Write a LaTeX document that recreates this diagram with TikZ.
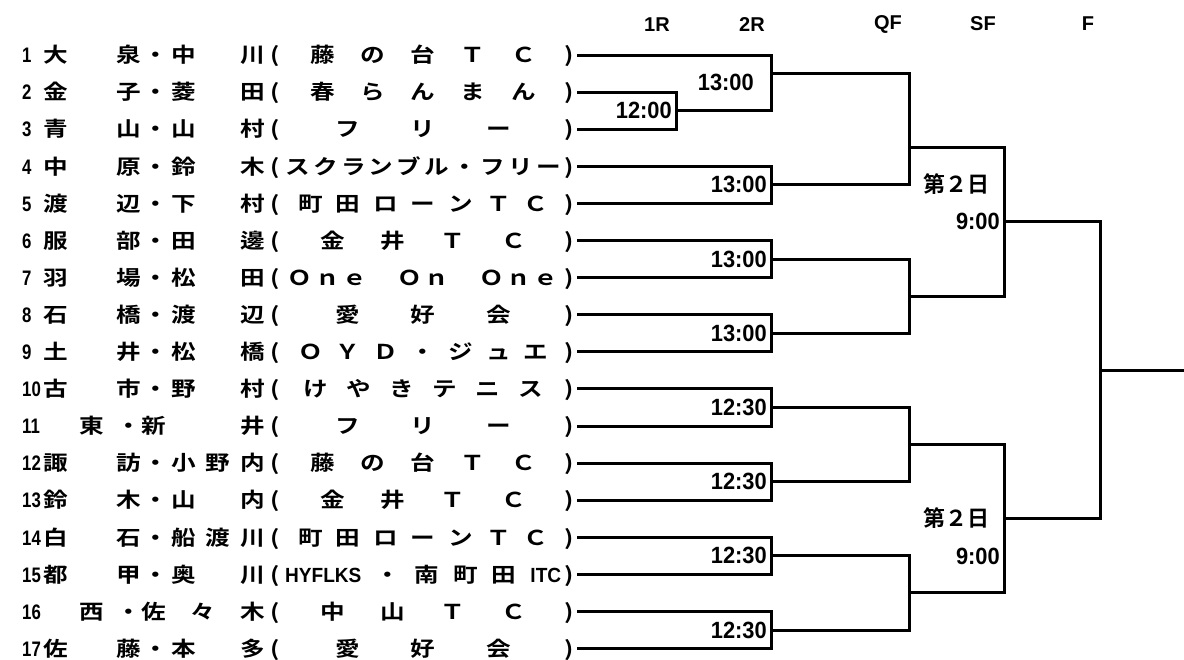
\documentclass[tikz,border=0pt]{standalone}
\usepackage{fontspec}
\usepackage{tikz}
\newfontfamily\jpfont{Noto Sans CJK JP Bold}[FakeStretch=1.2]
\newfontfamily\dayfont{Noto Sans CJK JP Bold}
\newfontfamily\numfont{Liberation Sans Bold}[FakeStretch=0.93]
\newfontfamily\idxfont{Liberation Sans Bold}[FakeStretch=0.8]
\newfontfamily\headfont{Liberation Sans Bold}
\newcommand{\player}[4]{%
  \makebox[21pt][l]{\idxfont\fontsize{21pt}{22pt}\selectfont #1}%
  \makebox[98pt][s]{#2}\makebox[30pt]{・}%
  \makebox[94pt][s]{#3}\makebox[20pt]{(}%
  \makebox[276pt][s]{#4}\makebox[16pt]{)}}
\newcommand{\playerb}[4]{%
  \makebox[21pt][l]{\idxfont\fontsize{21pt}{22pt}\selectfont #1}%
  \makebox[98pt]{#2}%
  \makebox[124pt][s]{\llap{・}#3}\makebox[20pt]{(}%
  \makebox[276pt][s]{#4}\makebox[16pt]{)}}

\begin{document}
\begin{tikzpicture}[x=1pt,y=-1pt,
  pl/.style={anchor=west,inner sep=0pt,text height=18pt,text depth=2.5pt,
    font={\jpfont\fontsize{20.5pt}{22pt}\selectfont}},
  line/.style={line width=3pt,line join=miter},
  time/.style={anchor=east,inner sep=0pt,font={\numfont\fontsize{23.5pt}{25pt}\selectfont}},
  head/.style={inner sep=0pt,font={\headfont\fontsize{20pt}{22pt}\selectfont}},
  day/.style={inner sep=0pt,font={\dayfont\fontsize{22pt}{24pt}\selectfont}}]
  \fill[white] (0,0) rectangle (1184,659);
  \useasboundingbox (0,0) rectangle (1184,659);

  \node[head] (h1) at (657,25) {1R};
  \node[head] (h2) at (752,25) {2R};
  \node[head] (h3) at (888,24) {QF};
  \node[head] (h4) at (983,24) {SF};
  \node[head] (h5) at (1088,24) {F};

  \node[pl] (r1) at (22,55) {\player{1}{大\hfill 泉}{中\hfill 川}{\hfill 藤\hfill の\hfill 台\hfill Ｔ\hfill Ｃ\hfill}};
  \node[pl] (r2) at (22,92.1) {\player{2}{金\hfill 子}{菱\hfill 田}{\hfill 春\hfill ら\hfill ん\hfill ま\hfill ん\hfill}};
  \node[pl] (r3) at (22,129.2) {\player{3}{青\hfill 山}{山\hfill 村}{\hfill フ\hfill リ\hfill ー\hfill}};
  \node[pl] (r4) at (22,166.3) {\player{4}{中\hfill 原}{鈴\hfill 木}{ス\hfill ク\hfill ラ\hfill ン\hfill ブ\hfill ル\hfill ・\hfill フ\hfill リ\hfill ー}};
  \node[pl] (r5) at (22,203.4) {\player{5}{渡\hfill 辺}{下\hfill 村}{\hfill 町\hfill 田\hfill ロ\hfill ー\hfill ン\hfill Ｔ\hfill Ｃ\hfill}};
  \node[pl] (r6) at (22,240.5) {\player{6}{服\hfill 部}{田\hfill 邊}{\hfill 金\hfill 井\hfill Ｔ\hfill Ｃ\hfill}};
  \node[pl] (r7) at (22,277.6) {\player{7}{羽\hfill 場}{松\hfill 田}{\hfill Ｏ\hfill ｎ\hfill ｅ\hfill\phantom{Ｏ}\hfill Ｏ\hfill ｎ\hfill\phantom{Ｏ}\hfill Ｏ\hfill ｎ\hfill ｅ\hfill}};
  \node[pl] (r8) at (22,314.7) {\player{8}{石\hfill 橋}{渡\hfill 辺}{\hfill 愛\hfill 好\hfill 会\hfill}};
  \node[pl] (r9) at (22,351.8) {\player{9}{土\hfill 井}{松\hfill 橋}{\hfill Ｏ\hfill Ｙ\hfill Ｄ\hfill ・\hfill ジ\hfill ュ\hfill エ\hfill}};
  \node[pl] (r10) at (22,388.9) {\player{10}{古\hfill 市}{野\hfill 村}{\hfill け\hfill や\hfill き\hfill テ\hfill ニ\hfill ス\hfill}};
  \node[pl] (r11) at (22,426) {\playerb{11}{東}{新\hfill 井}{\hfill フ\hfill リ\hfill ー\hfill}};
  \node[pl] (r12) at (22,463.1) {\player{12}{諏\hfill 訪}{小\hfill 野\hfill 内}{\hfill 藤\hfill の\hfill 台\hfill Ｔ\hfill Ｃ\hfill}};
  \node[pl] (r13) at (22,500.2) {\player{13}{鈴\hfill 木}{山\hfill 内}{\hfill 金\hfill 井\hfill Ｔ\hfill Ｃ\hfill}};
  \node[pl] (r14) at (22,537.3) {\player{14}{白\hfill 石}{船\hfill 渡\hfill 川}{\hfill 町\hfill 田\hfill ロ\hfill ー\hfill ン\hfill Ｔ\hfill Ｃ\hfill}};
  \node[pl] (r15) at (22,574.4) {\player{15}{都\hfill 甲}{奥\hfill 川}{{\numfont HYFLKS}\hfill ・\hfill 南\hfill 町\hfill 田\hfill{\numfont ITC}}};
  \node[pl] (r16) at (22,611.5) {\playerb{16}{西}{佐\hfill 々\hfill 木}{\hfill 中\hfill 山\hfill Ｔ\hfill Ｃ\hfill}};
  \node[pl] (r17) at (22,648.6) {\player{17}{佐\hfill 藤}{本\hfill 多}{\hfill 愛\hfill 好\hfill 会\hfill}};

  \coordinate (a1) at (676,110.65);
  \coordinate (b1) at (771,73.55);
  \coordinate (b2) at (771,184.85);
  \coordinate (b3) at (771,259.05);
  \coordinate (b4) at (771,333.25);
  \coordinate (b5) at (771,407.45);
  \coordinate (b6) at (771,481.65);
  \coordinate (b7) at (771,555.85);
  \coordinate (b8) at (771,630.05);
  \coordinate (c1) at (909,147.5);
  \coordinate (c2) at (909,296.15);
  \coordinate (c3) at (909,444.55);
  \coordinate (c4) at (909,592.95);
  \coordinate (d1) at (1004,221.8);
  \coordinate (d2) at (1004,518.75);
  \coordinate (e1) at (1100,370.3);
  \coordinate (win) at (1184,370.3);

  \draw[line] (r2.east) -| (a1) |- (r3.east);
  \draw[line] (r1.east) -| (b1) |- (a1);
  \draw[line] (r4.east) -| (b2) |- (r5.east);
  \draw[line] (r6.east) -| (b3) |- (r7.east);
  \draw[line] (r8.east) -| (b4) |- (r9.east);
  \draw[line] (r10.east) -| (b5) |- (r11.east);
  \draw[line] (r12.east) -| (b6) |- (r13.east);
  \draw[line] (r14.east) -| (b7) |- (r15.east);
  \draw[line] (r16.east) -| (b8) |- (r17.east);
  \draw[line] (b1) -| (c1) |- (b2);
  \draw[line] (b3) -| (c2) |- (b4);
  \draw[line] (b5) -| (c3) |- (b6);
  \draw[line] (b7) -| (c4) |- (b8);
  \draw[line] (c1) -| (d1) |- (c2);
  \draw[line] (c3) -| (d2) |- (c4);
  \draw[line] (d1) -| (e1) |- (d2);
  \draw[line] (e1) -- (win);

  \node[time] (t1) at (672,110.65) {12:00};
  \node[time] (t2) at (754,82) {13:00};
  \node[time] (t3) at (767,184.85) {13:00};
  \node[time] (t4) at (767,259.05) {13:00};
  \node[time] (t5) at (767,333.25) {13:00};
  \node[time] (t6) at (767,407.45) {12:30};
  \node[time] (t7) at (767,481.65) {12:30};
  \node[time] (t8) at (767,555.85) {12:30};
  \node[time] (t9) at (767,630.05) {12:30};
  \node[day] (s1) at (956,184) {第２日};
  \node[time] (u1) at (1000,221.8) {9:00};
  \node[day] (s2) at (956,518) {第２日};
  \node[time] (u2) at (1000,556) {9:00};
\end{tikzpicture}
\end{document}
